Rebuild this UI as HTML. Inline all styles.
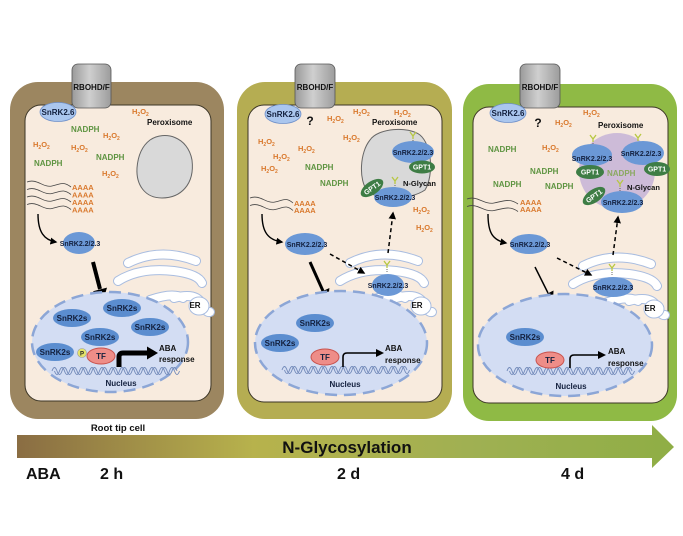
<!DOCTYPE html>
<html><head><meta charset="utf-8"><style>
html,body{margin:0;padding:0;background:#fff;}
svg{display:block;}
.t{font-family:"Liberation Sans",Arial,sans-serif;font-weight:bold;}
.h{font-family:"Liberation Sans",Arial,sans-serif;font-weight:bold;font-size:7.5px;fill:#d9782c;}
.n{font-family:"Liberation Sans",Arial,sans-serif;font-weight:bold;font-size:8px;fill:#5e9441;}
.s{font-family:"Liberation Sans",Arial,sans-serif;font-weight:bold;font-size:7px;fill:#13203e;text-anchor:middle;}
.k{font-family:"Liberation Sans",Arial,sans-serif;font-weight:bold;font-size:8px;fill:#13203e;text-anchor:middle;}
.a{font-family:"Liberation Sans",Arial,sans-serif;font-weight:bold;font-size:7.5px;fill:#d9782c;}
.g{font-family:"Liberation Sans",Arial,sans-serif;font-weight:bold;font-size:7px;fill:#fff;text-anchor:middle;}
</style></head><body>
<svg width="683" height="536" viewBox="0 0 683 536" xmlns="http://www.w3.org/2000/svg">
<defs>
<linearGradient id="ag" x1="0" x2="1" y1="0" y2="0">
<stop offset="0" stop-color="#8a6d43"/><stop offset="0.36" stop-color="#b7b24c"/><stop offset="0.7" stop-color="#9fb052"/><stop offset="1" stop-color="#8fae45"/>
</linearGradient>
<linearGradient id="gr" x1="0" x2="1" y1="0" y2="0">
<stop offset="0" stop-color="#9a9a9a"/><stop offset="0.45" stop-color="#cfcfcf"/><stop offset="1" stop-color="#9c9c9c"/>
</linearGradient>
<marker id="ah" viewBox="0 0 10 10" refX="8" refY="5" markerWidth="5" markerHeight="5" orient="auto"><path d="M0,0 L10,5 L0,10 z" fill="#000"/></marker>
<g id="dna" fill="none" stroke="#7088b8" stroke-width="0.9">
<path d="M0,0 q2.5,-7 5,0 t5,0 t5,0 t5,0 t5,0 t5,0 t5,0 t5,0 t5,0 t5,0 t5,0 t5,0 t5,0 t5,0 t5,0 t5,0 t5,0 t5,0 t5,0 t5,0 t5,0 t5,0 t5,0 t5,0 t5,0"/>
<path d="M2.5,0 q2.5,7 5,0 t5,0 t5,0 t5,0 t5,0 t5,0 t5,0 t5,0 t5,0 t5,0 t5,0 t5,0 t5,0 t5,0 t5,0 t5,0 t5,0 t5,0 t5,0 t5,0 t5,0 t5,0 t5,0 t5,0 t5,0"/>
</g>
<g id="er" fill="none" stroke-linecap="round">
<g stroke="#a9bde0" stroke-width="10">
<path d="M350,263 Q382,247 418,261"/>
<path d="M340,281 Q362,267 396,271 Q420,274 424,283"/>
<path d="M396,298 Q418,292 424,304 Q428,313 432,312"/>
<path d="M372,300 Q395,292 405,298"/>
</g>
<g stroke="#ffffff" stroke-width="8">
<path d="M350,263 Q382,247 418,261"/>
<path d="M340,281 Q362,267 396,271 Q420,274 424,283"/>
<path d="M396,298 Q418,292 424,304 Q428,313 432,312"/>
<path d="M372,300 Q395,292 405,298"/>
</g>
<ellipse cx="421" cy="306" rx="10" ry="9" fill="#fff" stroke="#a9bde0" stroke-width="1"/>
</g>
<g id="y"><path d="M-3,-4 L0,0 L3,-4 M0,0 V3" stroke="#b8c743" stroke-width="1.3" fill="none"/><path d="M0,4 V8" stroke="#444" stroke-width="0.8" stroke-dasharray="1 1"/></g>
</defs>

<!-- ================= CELL 1 ================= -->
<rect x="10" y="82" width="214" height="337" rx="28" fill="#9c8660"/>
<rect x="25" y="105" width="186" height="296" rx="16" fill="#f8ebde" stroke="#3b3526" stroke-width="1"/>
<rect x="72" y="64" width="39" height="44" rx="6" fill="url(#gr)" stroke="#555" stroke-width="0.8"/>
<text class="t" x="91.5" y="90" font-size="8" text-anchor="middle" fill="#111">RBOHD/F</text>
<ellipse cx="58" cy="112" rx="18" ry="9.5" fill="#aac6ee" stroke="#6d8fca" stroke-width="0.8"/>
<text class="k" x="58" y="115">SnRK2.6</text>
<text class="h" x="132" y="114">H<tspan dy="2" font-size="5">2</tspan><tspan dy="-2">O</tspan><tspan dy="2" font-size="5">2</tspan></text>
<text class="h" x="103" y="138">H<tspan dy="2" font-size="5">2</tspan><tspan dy="-2">O</tspan><tspan dy="2" font-size="5">2</tspan></text>
<text class="h" x="33" y="147">H<tspan dy="2" font-size="5">2</tspan><tspan dy="-2">O</tspan><tspan dy="2" font-size="5">2</tspan></text>
<text class="h" x="71" y="150">H<tspan dy="2" font-size="5">2</tspan><tspan dy="-2">O</tspan><tspan dy="2" font-size="5">2</tspan></text>
<text class="h" x="102" y="176">H<tspan dy="2" font-size="5">2</tspan><tspan dy="-2">O</tspan><tspan dy="2" font-size="5">2</tspan></text>
<text class="n" x="71" y="132">NADPH</text>
<text class="n" x="96" y="160">NADPH</text>
<text class="n" x="34" y="166">NADPH</text>
<text class="t" x="147" y="125" font-size="8" fill="#111">Peroxisome</text>
<path d="M150,140 C165,130 188,137 192,160 C195,185 180,198 162,198 C145,198 136,185 137,168 C138,155 142,146 150,140 Z" fill="#d9d9d9" stroke="#666" stroke-width="1"/>
<g fill="none" stroke="#444" stroke-width="0.8">
<path d="M27,182 C37,178 43,188 52,186 S63,181 71,187"/>
<path d="M27,189.5 C37,185.5 43,195.5 52,193.5 S63,188.5 71,194.5"/>
<path d="M27,197 C37,193 43,203 52,201 S63,196 71,202"/>
<path d="M27,204.5 C37,200.5 43,210.5 52,208.5 S63,203.5 71,209.5"/>
</g>
<text class="a" x="72" y="190">AAAA</text>
<text class="a" x="72" y="197.5">AAAA</text>
<text class="a" x="72" y="205">AAAA</text>
<text class="a" x="72" y="212.5">AAAA</text>
<path d="M38,214 C38,232 44,240 56,242" fill="none" stroke="#000" stroke-width="1.4" marker-end="url(#ah)"/>
<ellipse cx="79" cy="243" rx="16" ry="11" fill="#6b98d6"/>
<text class="s" x="80" y="246">SnRK2.2/2.3</text>
<use href="#er" transform="translate(-222,0)"/>
<text class="t" x="195" y="308" font-size="8" text-anchor="middle" fill="#111">ER</text>
<line x1="93" y1="262" x2="100" y2="289" stroke="#000" stroke-width="4"/>
<polygon points="107,287.6 103,301 93,291.2" fill="#000"/>
<ellipse cx="110" cy="342" rx="78" ry="50" fill="#d3ddf3" stroke="#8ca6d6" stroke-width="2.5" stroke-dasharray="12 7"/>
<ellipse cx="122" cy="308" rx="19" ry="9" fill="#5b8dcf"/><text class="k" x="122" y="311">SnRK2s</text>
<ellipse cx="72" cy="318" rx="19" ry="9" fill="#5b8dcf"/><text class="k" x="72" y="321">SnRK2s</text>
<ellipse cx="150" cy="327" rx="19" ry="9" fill="#5b8dcf"/><text class="k" x="150" y="330">SnRK2s</text>
<ellipse cx="100" cy="337" rx="19" ry="9" fill="#5b8dcf"/><text class="k" x="100" y="340">SnRK2s</text>
<ellipse cx="55" cy="352" rx="19" ry="9" fill="#5b8dcf"/><text class="k" x="55" y="355">SnRK2s</text>
<use href="#dna" x="52" y="371"/>
<circle cx="82" cy="353" r="4.5" fill="#e4e36a" stroke="#999" stroke-width="0.6"/>
<text class="t" x="82" y="355.5" font-size="6" text-anchor="middle" fill="#222">P</text>
<ellipse cx="101" cy="356" rx="14" ry="8" fill="#ee8d88" stroke="#c9524d" stroke-width="1"/>
<text class="k" x="101" y="359">TF</text>
<path d="M119,367 V357 Q119,353 123,353 H148" fill="none" stroke="#000" stroke-width="5"/>
<polygon points="147,346.5 158,353 147,359.5" fill="#000"/>
<text class="t" x="159" y="351" font-size="8" fill="#111">ABA</text>
<text class="t" x="159" y="362" font-size="8" fill="#111">response</text>
<text class="k" x="121" y="386">Nucleus</text>

<!-- ================= CELL 2 ================= -->
<rect x="237" y="82" width="215" height="337" rx="28" fill="#b5ad52"/>
<rect x="248" y="105" width="194" height="297" rx="16" fill="#f8ebde" stroke="#3b3526" stroke-width="1"/>
<rect x="295" y="64" width="40" height="44" rx="6" fill="url(#gr)" stroke="#555" stroke-width="0.8"/>
<text class="t" x="315" y="90" font-size="8" text-anchor="middle" fill="#111">RBOHD/F</text>
<ellipse cx="283" cy="114" rx="18" ry="9.5" fill="#aac6ee" stroke="#6d8fca" stroke-width="0.8"/>
<text class="k" x="283" y="117">SnRK2.6</text>
<text class="t" x="310" y="125" font-size="12" text-anchor="middle" fill="#111">?</text>
<text class="h" x="327" y="121">H<tspan dy="2" font-size="5">2</tspan><tspan dy="-2">O</tspan><tspan dy="2" font-size="5">2</tspan></text>
<text class="h" x="353" y="114">H<tspan dy="2" font-size="5">2</tspan><tspan dy="-2">O</tspan><tspan dy="2" font-size="5">2</tspan></text>
<text class="h" x="394" y="115">H<tspan dy="2" font-size="5">2</tspan><tspan dy="-2">O</tspan><tspan dy="2" font-size="5">2</tspan></text>
<text class="h" x="258" y="144">H<tspan dy="2" font-size="5">2</tspan><tspan dy="-2">O</tspan><tspan dy="2" font-size="5">2</tspan></text>
<text class="h" x="298" y="151">H<tspan dy="2" font-size="5">2</tspan><tspan dy="-2">O</tspan><tspan dy="2" font-size="5">2</tspan></text>
<text class="h" x="343" y="140">H<tspan dy="2" font-size="5">2</tspan><tspan dy="-2">O</tspan><tspan dy="2" font-size="5">2</tspan></text>
<text class="h" x="273" y="159">H<tspan dy="2" font-size="5">2</tspan><tspan dy="-2">O</tspan><tspan dy="2" font-size="5">2</tspan></text>
<text class="h" x="261" y="171">H<tspan dy="2" font-size="5">2</tspan><tspan dy="-2">O</tspan><tspan dy="2" font-size="5">2</tspan></text>
<text class="h" x="413" y="212">H<tspan dy="2" font-size="5">2</tspan><tspan dy="-2">O</tspan><tspan dy="2" font-size="5">2</tspan></text>
<text class="h" x="416" y="230">H<tspan dy="2" font-size="5">2</tspan><tspan dy="-2">O</tspan><tspan dy="2" font-size="5">2</tspan></text>
<text class="n" x="305" y="170">NADPH</text>
<text class="n" x="320" y="186">NADPH</text>
<text class="t" x="372" y="125" font-size="8" fill="#111">Peroxisome</text>
<path d="M370,140 C378,128 408,126 420,135 C432,145 434,175 425,190 C410,200 380,200 368,192 C358,180 360,152 370,140 Z" fill="#d9d9d9" stroke="#666" stroke-width="1"/>
<use href="#y" x="413" y="136"/>
<ellipse cx="413" cy="152" rx="21" ry="11" fill="#6b98d6"/>
<text class="s" x="413" y="155">SnRK2.2/2.3</text>
<ellipse cx="422" cy="167" rx="13" ry="6.5" fill="#3e7d45"/>
<text class="g" x="422" y="169.5">GPT1</text>
<use href="#y" x="395" y="181"/>
<text class="t" x="403" y="186" font-size="7.5" fill="#111">N-Glycan</text>
<ellipse cx="393" cy="197" rx="19" ry="10" fill="#6b98d6"/>
<text class="s" x="395" y="200">SnRK2.2/2.3</text>
<g transform="translate(372,188) rotate(-35)"><ellipse cx="0" cy="0" rx="13" ry="6.5" fill="#3e7d45"/><text class="g" x="0" y="2.5">GPT1</text></g>
<g fill="none" stroke="#444" stroke-width="0.8">
<path d="M250,198 C260,194 266,204 275,202 S286,197 293,203"/>
<path d="M250,205.5 C260,201.5 266,211.5 275,209.5 S286,204.5 293,210.5"/>
</g>
<text class="a" x="294" y="206">AAAA</text>
<text class="a" x="294" y="213">AAAA</text>
<path d="M262,214 C262,232 268,240 282,242" fill="none" stroke="#000" stroke-width="1.4" marker-end="url(#ah)"/>
<ellipse cx="305" cy="244" rx="20" ry="11" fill="#6b98d6"/>
<text class="s" x="307" y="247">SnRK2.2/2.3</text>
<use href="#er"/>
<text class="t" x="417" y="308" font-size="8" text-anchor="middle" fill="#111">ER</text>
<use href="#y" x="387" y="265"/>
<ellipse cx="388" cy="285" rx="16" ry="11" fill="#6b98d6"/>
<text class="s" x="388" y="288">SnRK2.2/2.3</text>
<path d="M330,254 L364,273" fill="none" stroke="#000" stroke-width="1.5" stroke-dasharray="4 3" marker-end="url(#ah)"/>
<path d="M388,253 L393,213" fill="none" stroke="#000" stroke-width="1.5" stroke-dasharray="4 3" marker-end="url(#ah)"/>
<line x1="310" y1="262" x2="323" y2="291" stroke="#000" stroke-width="3"/>
<polygon points="329.4,288 328,302 316.6,294" fill="#000"/>
<ellipse cx="341" cy="343" rx="86" ry="52" fill="#d3ddf3" stroke="#8ca6d6" stroke-width="2.5" stroke-dasharray="12 7"/>
<ellipse cx="315" cy="323" rx="19" ry="9" fill="#5b8dcf"/><text class="k" x="315" y="326">SnRK2s</text>
<ellipse cx="280" cy="343" rx="19" ry="9" fill="#5b8dcf"/><text class="k" x="280" y="346">SnRK2s</text>
<use href="#dna" x="282" y="370"/>
<ellipse cx="325" cy="357" rx="14" ry="8" fill="#ee8d88" stroke="#c9524d" stroke-width="1"/>
<text class="k" x="325" y="360">TF</text>
<path d="M343,367 V357 Q343,353 347,353 H377" fill="none" stroke="#000" stroke-width="1.6"/>
<polygon points="376,349 384,353 376,357" fill="#000"/>
<text class="t" x="385" y="351" font-size="8" fill="#111">ABA</text>
<text class="t" x="385" y="363" font-size="8" fill="#111">response</text>
<text class="k" x="345" y="387">Nucleus</text>

<!-- ================= CELL 3 ================= -->
<rect x="463" y="84" width="214" height="337" rx="26" fill="#8fba45"/>
<rect x="473" y="107" width="195" height="296" rx="16" fill="#f8ebde" stroke="#3b3526" stroke-width="1"/>
<rect x="520" y="64" width="40" height="44" rx="6" fill="url(#gr)" stroke="#555" stroke-width="0.8"/>
<text class="t" x="540" y="90" font-size="8" text-anchor="middle" fill="#111">RBOHD/F</text>
<ellipse cx="508" cy="113" rx="18" ry="9.5" fill="#aac6ee" stroke="#6d8fca" stroke-width="0.8"/>
<text class="k" x="508" y="116">SnRK2.6</text>
<text class="t" x="538" y="127" font-size="12" text-anchor="middle" fill="#111">?</text>
<text class="h" x="555" y="125">H<tspan dy="2" font-size="5">2</tspan><tspan dy="-2">O</tspan><tspan dy="2" font-size="5">2</tspan></text>
<text class="h" x="583" y="115">H<tspan dy="2" font-size="5">2</tspan><tspan dy="-2">O</tspan><tspan dy="2" font-size="5">2</tspan></text>
<text class="h" x="542" y="150">H<tspan dy="2" font-size="5">2</tspan><tspan dy="-2">O</tspan><tspan dy="2" font-size="5">2</tspan></text>
<text class="t" x="598" y="128" font-size="8" fill="#111">Peroxisome</text>
<text class="n" x="488" y="152">NADPH</text>
<text class="n" x="530" y="174">NADPH</text>
<text class="n" x="493" y="187">NADPH</text>
<text class="n" x="545" y="189">NADPH</text>
<circle cx="617" cy="171" r="38" fill="#cdbbd8"/>
<text class="n" x="607" y="176" style="fill:#8aa860">NADPH</text>
<use href="#y" x="593" y="139"/>
<ellipse cx="592" cy="155" rx="20" ry="11" fill="#6b98d6"/>
<text class="s" x="592" y="161">SnRK2.2/2.3</text>
<use href="#y" x="638" y="138"/>
<ellipse cx="643" cy="153" rx="21" ry="12" fill="#6b98d6"/>
<text class="s" x="641" y="156">SnRK2.2/2.3</text>
<ellipse cx="590" cy="172" rx="14" ry="7" fill="#3e7d45"/>
<text class="g" x="590" y="174.5">GPT1</text>
<ellipse cx="657" cy="169" rx="13" ry="7" fill="#3e7d45"/>
<text class="g" x="657" y="171.5">GPT1</text>
<use href="#y" x="620" y="184"/>
<text class="t" x="627" y="190" font-size="7.5" fill="#111">N-Glycan</text>
<ellipse cx="622" cy="202" rx="21" ry="11" fill="#6b98d6"/>
<text class="s" x="623" y="205">SnRK2.2/2.3</text>
<g transform="translate(594,196) rotate(-35)"><ellipse cx="0" cy="0" rx="13" ry="6.5" fill="#3e7d45"/><text class="g" x="0" y="2.5">GPT1</text></g>
<g fill="none" stroke="#444" stroke-width="0.8">
<path d="M467,199 C477,195 484,205 494,203 S510,198 518,204"/>
<path d="M467,206.5 C477,202.5 484,212.5 494,210.5 S510,205.5 518,211.5"/>
</g>
<text class="a" x="520" y="205">AAAA</text>
<text class="a" x="520" y="212">AAAA</text>
<path d="M488,214 C488,232 492,240 506,243" fill="none" stroke="#000" stroke-width="1.4" marker-end="url(#ah)"/>
<ellipse cx="529" cy="244" rx="19" ry="10" fill="#6b98d6"/>
<text class="s" x="530" y="247">SnRK2.2/2.3</text>
<use href="#er" transform="translate(233,3)"/>
<text class="t" x="650" y="311" font-size="8" text-anchor="middle" fill="#111">ER</text>
<use href="#y" x="612" y="268"/>
<ellipse cx="613" cy="287" rx="20" ry="10" fill="#6b98d6"/>
<text class="s" x="613" y="290">SnRK2.2/2.3</text>
<path d="M557,258 L591,275" fill="none" stroke="#000" stroke-width="1.5" stroke-dasharray="4 3" marker-end="url(#ah)"/>
<path d="M613,255 L618,217" fill="none" stroke="#000" stroke-width="1.5" stroke-dasharray="4 3" marker-end="url(#ah)"/>
<line x1="535" y1="267" x2="548" y2="293" stroke="#000" stroke-width="1.5"/>
<polygon points="553.5,290.5 553,304 542.7,296" fill="#000"/>
<ellipse cx="565" cy="345" rx="87" ry="51" fill="#d3ddf3" stroke="#8ca6d6" stroke-width="2.5" stroke-dasharray="12 7"/>
<ellipse cx="525" cy="337" rx="19" ry="9" fill="#5b8dcf"/><text class="k" x="525" y="340">SnRK2s</text>
<use href="#dna" x="507" y="371"/>
<ellipse cx="550" cy="360" rx="14" ry="8" fill="#ee8d88" stroke="#c9524d" stroke-width="1"/>
<text class="k" x="550" y="363">TF</text>
<path d="M570,368 V359 Q570,355 574,355 H599" fill="none" stroke="#000" stroke-width="1.6"/>
<polygon points="598,351 606,355 598,359" fill="#000"/>
<text class="t" x="608" y="354" font-size="8" fill="#111">ABA</text>
<text class="t" x="608" y="366" font-size="8" fill="#111">response</text>
<text class="k" x="571" y="389">Nucleus</text>

<!-- ================= BOTTOM ================= -->
<text class="t" x="118" y="431" font-size="9.5" text-anchor="middle" fill="#111">Root tip cell</text>
<polygon points="17,435 652,435 652,425 674,447 652,468 652,458 17,458" fill="url(#ag)"/>
<text class="t" x="347" y="453" font-size="17" text-anchor="middle" fill="#111">N-Glycosylation</text>
<text class="t" x="26" y="479" font-size="16" fill="#111">ABA</text>
<text class="t" x="100" y="479" font-size="16" fill="#111">2 h</text>
<text class="t" x="337" y="479" font-size="16" fill="#111">2 d</text>
<text class="t" x="561" y="479" font-size="16" fill="#111">4 d</text>
</svg>
</body></html>
